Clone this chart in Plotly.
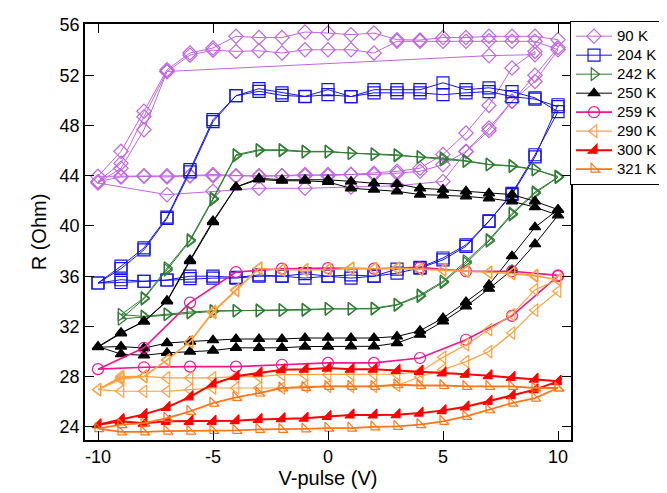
import plotly.graph_objects as go

# ---- voltage sweeps ----
v_down = [10, 9, 8, 7, 6, 5, 4, 3, 2, 1, 0, -1, -2, -3, -4, -5, -6, -7, -8, -9, -10]
v_up = [-9, -8, -7, -6, -5, -4, -3, -2, -1, 0, 1, 2, 3, 4, 5, 6, 7, 8, 9, 10]
v_down2 = v_down[1:]

# ---- 90 K ----
r90_high1 = [54.83, 55.1, 55.1, 55.1, 55.0, 55.0, 54.8, 54.83, 55.36, 55.23, 55.36, 55.44, 55.0, 55.0, 55.1, 54.17, 53.77, 52.44, 49.13, 45.94, 43.95]
r90_low1 = [43.95, 44.0, 44.0, 44.0, 44.1, 44.0, 43.95, 44.0, 44.0, 44.1, 44.1, 44.1, 44.2, 44.35, 44.88, 45.94, 47.8, 49.93, 51.5, 54.03]
r90_high2 = [54.7, 54.7, 54.75, 54.7, 54.7, 54.7, 54.7, 53.77, 54.03, 54.03, 54.03, 53.77, 53.95, 53.9, 54.0, 53.6, 52.3, 48.7, 45.0, 43.55]
r90_low2 = [43.9, 43.95, 43.9, 44.0, 44.0, 43.95, 44.0, 44.0, 44.1, 44.0, 44.1, 44.2, 44.35, 44.6, 45.7, 47.4, 49.6, 52.58, 53.9]
v90_high3 = [9, 7, -7, -8, -9, -10]
r90_high3 = [53.64, 53.56, 52.3, 47.66, 44.6, 43.42]
v90_low3 = [-7, -5, -3, -1, 1, 3, 5, 6, 7, 8, 9, 10]
r90_low3 = [42.49, 42.76, 43.0, 43.0, 43.1, 43.2, 43.55, 45.9, 47.6, 49.9, 52.0, 54.2]

# ---- 204 K ----
r204_high1 = [49.5, 50.1, 50.3, 50.7, 50.6, 50.45, 50.6, 50.6, 50.6, 50.3, 50.45, 50.3, 50.4, 50.72, 50.37, 48.46, 44.48, 40.7, 38.25, 36.8, 35.46]
r204_low1 = [35.5, 35.6, 35.7, 35.8, 35.85, 35.85, 36.0, 36.0, 35.85, 36.0, 35.85, 36.0, 36.25, 36.65, 37.3, 38.38, 40.37, 42.6, 45.67, 49.1]
r204_high2 = [50.2, 50.7, 51.0, 50.85, 51.4, 50.85, 50.85, 50.85, 50.3, 50.85, 50.32, 50.6, 50.93, 50.37, 48.3, 44.3, 40.6, 38.1, 36.6, 35.46]
r204_low2 = [35.72, 35.6, 35.7, 36.0, 36.0, 35.9, 36.1, 36.0, 36.2, 36.0, 36.1, 36.0, 36.57, 36.7, 37.45, 38.5, 40.4, 42.5, 45.5, 49.65]

# ---- 242 K (sweeps -9 .. 10) ----
v242_down = [10, 9, 8, 7, 6, 5, 4, 3, 2, 1, 0, -1, -2, -3, -4, -5, -6, -7, -8, -9]
v242_up = [-8, -7, -6, -5, -4, -3, -2, -1, 0, 1, 2, 3, 4, 5, 6, 7, 8, 9, 10]
r242_high1 = [43.95, 44.48, 44.75, 44.88, 45.15, 45.28, 45.47, 45.67, 45.73, 45.8, 45.94, 45.94, 46.07, 46.07, 45.67, 42.2, 38.9, 36.65, 34.27, 32.94]
r242_low1 = [32.8, 32.99, 33.15, 33.25, 33.25, 33.25, 33.3, 33.3, 33.4, 33.4, 33.4, 33.7, 34.4, 35.5, 37.05, 38.8, 40.9, 42.6, 43.87]
r242_high2 = [44.5, 44.8, 44.9, 45.2, 45.4, 45.5, 45.6, 45.7, 45.8, 45.9, 45.9, 46.0, 46.0, 45.6, 42.1, 38.8, 36.5, 34.2, 32.6]
r242_low2 = [32.75, 32.95, 33.1, 33.2, 33.25, 33.3, 33.3, 33.35, 33.4, 33.4, 33.45, 33.75, 34.5, 35.6, 37.2, 38.9, 41.0, 42.7, 43.9]

# ---- 250 K ----
r250_high1 = [41.3, 41.96, 42.5, 42.6, 42.76, 42.9, 43.0, 43.34, 43.4, 43.55, 43.68, 43.68, 43.68, 43.8, 43.1, 40.4, 37.3, 34.05, 32.4, 31.5, 30.4]
r250_low1 = [29.8, 29.7, 29.9, 30.0, 30.08, 30.3, 30.3, 30.3, 30.4, 30.4, 30.42, 30.42, 30.68, 31.34, 32.4, 33.6, 35.0, 36.5, 38.56, 40.85]
r250_high2 = [41.5, 41.96, 42.2, 42.36, 42.44, 42.5, 42.76, 42.9, 43.0, 43.5, 43.6, 43.6, 43.7, 43.1, 40.3, 37.2, 34.0, 32.4, 31.45, 30.35]
r250_low2 = [30.4, 30.28, 30.68, 30.8, 30.9, 31.0, 31.0, 31.0, 31.08, 31.1, 31.08, 31.08, 31.2, 31.66, 32.67, 33.95, 35.32, 37.6, 39.9, 41.3]

# ---- 259 K (2 V steps) ----
v259_down = [10, 8, 6, 4, 2, 0, -2, -4, -6, -8, -10]
v259_up = [-8, -6, -4, -2, 0, 2, 4, 6, 8, 10]
r259_high = [36.07, 36.4, 36.4, 36.7, 36.6, 36.65, 36.6, 36.33, 33.9, 30.3, 28.6]
r259_low = [28.75, 28.8, 28.8, 28.95, 29.1, 29.1, 29.49, 30.94, 32.85, 36.0]

# ---- 290 K ----
r290_high1 = [35.72, 36.07, 36.25, 36.3, 36.4, 36.5, 36.55, 36.65, 36.6, 36.65, 36.5, 36.5, 36.5, 36.65, 34.93, 33.2, 30.8, 29.35, 28.03, 27.9, 26.97]
r290_low1 = [28.03, 28.03, 27.9, 27.9, 27.9, 28.0, 28.0, 28.16, 28.16, 28.16, 28.2, 28.2, 28.2, 28.4, 29.54, 30.55, 31.74, 32.94, 34.93, 35.72]
r290_high2 = [36.0, 36.2, 36.3, 36.4, 36.5, 36.55, 36.6, 36.6, 36.6, 36.5, 36.5, 36.5, 36.6, 34.85, 33.1, 30.75, 29.3, 28.0, 27.8, 26.97]
r290_low2 = [26.84, 26.84, 26.84, 26.97, 27.1, 27.1, 27.1, 27.1, 27.23, 27.23, 27.23, 27.23, 27.3, 28.0, 28.55, 29.2, 30.0, 31.48, 33.3, 34.8]

# ---- 300 K ----
r300_high = [27.63, 27.8, 27.95, 28.08, 28.2, 28.3, 28.43, 28.5, 28.6, 28.6, 28.69, 28.6, 28.56, 28.3, 28.03, 27.42, 26.4, 25.56, 25.0, 24.6, 24.18]
r300_low = [24.45, 24.3, 24.45, 24.45, 24.45, 24.5, 24.6, 24.65, 24.7, 24.84, 24.95, 24.95, 24.97, 25.1, 25.3, 25.6, 26.04, 26.5, 26.97, 27.63]

# ---- 321 K ----
r321_high = [27.1, 27.1, 27.23, 27.23, 27.23, 27.3, 27.3, 27.36, 27.23, 27.23, 27.23, 27.15, 27.1, 26.7, 26.35, 25.9, 25.24, 24.7, 24.3, 24.18, 23.86]
r321_low = [23.6, 23.6, 23.67, 23.67, 23.73, 23.73, 23.8, 23.8, 23.85, 23.9, 23.9, 24.0, 24.05, 24.18, 24.45, 24.84, 25.37, 25.9, 26.3, 27.1]

labels = ["90 K", "204 K", "242 K", "250 K", "259 K", "290 K", "300 K", "321 K"]
colors = ["#C066E0", "#1414E6", "#2E7D32", "#000000", "#F0188C", "#FFA040", "#FF0000", "#FF7518"]
symbols = ["diamond-open", "square-open", "triangle-right-open", "triangle-up",
           "circle-open", "triangle-left-open", "triangle-se", "triangle-sw-open"]
sizes = [11, 12, 11, 10, 11, 11, 10, 10]
widths = [1, 1, 1, 1, 1.6, 1.2, 2, 1.8]

x_ticks = [-10, -5, 0, 5, 10]
x_tick_text = ["-10", "-5", "0", "5", "10"]
y_ticks = [24, 28, 32, 36, 40, 44, 48, 52, 56]

series_x = [
    v_down + v_up + v_down2 + v_up[:-1] + v90_high3 + v90_low3,
    v_down + v_up + v_down2 + v_up,
    v242_down + v242_up + v242_down[1:] + v242_up,
    v_down + v_up + v_down2 + v_up,
    v259_down + v259_up,
    v_down + v_up + v_down2 + v_up,
    v_down + v_up,
    v_down + v_up,
]
series_y = [
    r90_high1 + r90_low1 + r90_high2 + r90_low2 + r90_high3 + r90_low3,
    r204_high1 + r204_low1 + r204_high2 + r204_low2,
    r242_high1 + r242_low1 + r242_high2 + r242_low2,
    r250_high1 + r250_low1 + r250_high2 + r250_low2,
    r259_high + r259_low,
    r290_high1 + r290_low1 + r290_high2 + r290_low2,
    r300_high + r300_low,
    r321_high + r321_low,
]

fig = go.Figure()
for lab, c, s, sz, w, xs, ys in zip(labels, colors, symbols, sizes, widths, series_x, series_y):
    fig.add_trace(go.Scatter(
        x=xs, y=ys, name="<span style='font-size:15px'>" + lab + "</span>",
        mode="lines+markers",
        line=dict(color=c, width=w),
        marker=dict(symbol=s, size=sz, color=c, line=dict(color=c, width=1.2)),
    ))

font_family = "Liberation Sans, Arial"
axis_common = dict(
    showline=True, linecolor="black", linewidth=1.5, mirror="ticks",
    ticks="inside", ticklen=9, tickwidth=1.2, tickcolor="black",
    showgrid=False, zeroline=False, automargin=False,
    tickfont=dict(family=font_family, size=18, color="black"),
)
fig.update_xaxes(range=[-10.565, 10.565], tickvals=x_ticks, ticktext=x_tick_text,
                 title=dict(text="V-pulse (V)", font=dict(family=font_family, size=20, color="black"), standoff=3),
                 **axis_common)
fig.update_yaxes(range=[22.96, 56.08], tickvals=y_ticks,
                 title=dict(text="R (Ohm)", font=dict(family=font_family, size=20, color="black"), standoff=8),
                 **axis_common)
fig.update_layout(
    width=667, height=493,
    margin=dict(l=77, r=104, t=16, b=61, autoexpand=False),
    plot_bgcolor="white", paper_bgcolor="white",
    legend=dict(x=0.998, y=1.008, xanchor="left", yanchor="top",
                bordercolor="black", borderwidth=1, bgcolor="white",
                font=dict(family=font_family, size=12.2, color="black"),
                itemwidth=36, tracegroupgap=0),
)
fig.write_html("out.html")
